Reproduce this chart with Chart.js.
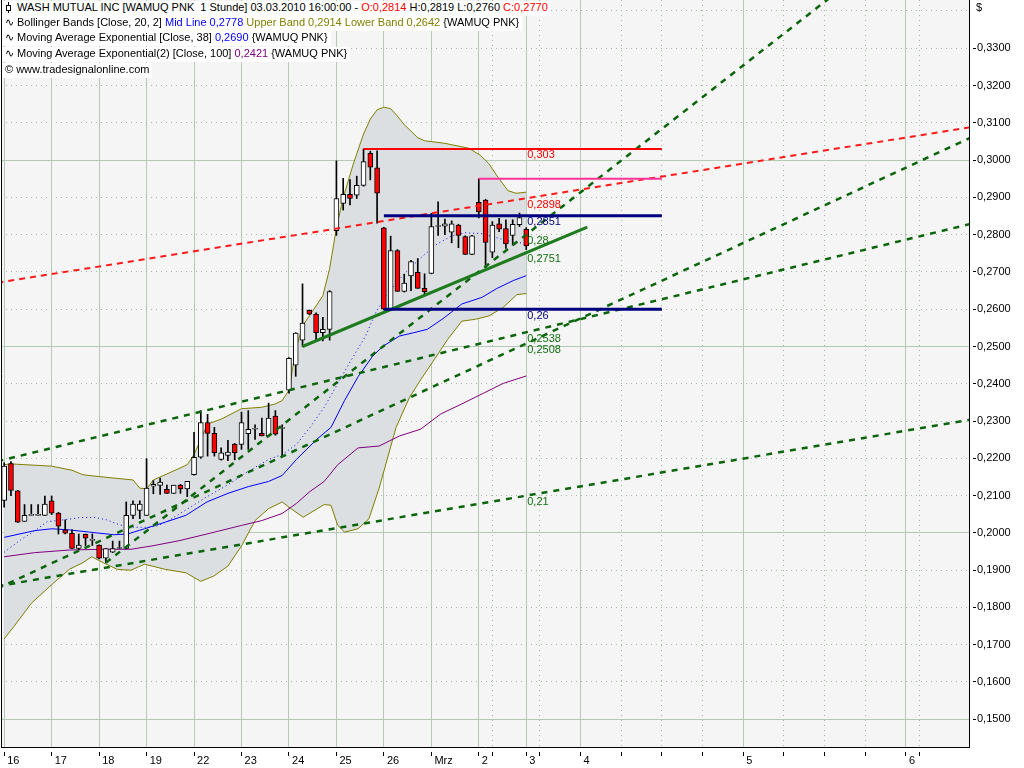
<!DOCTYPE html>
<html>
<head>
<meta charset="utf-8">
<script src="https://cdn.jsdelivr.net/npm/chart.js@4.4.0/dist/chart.umd.min.js"></script>
<style>
body { margin: 0; background: #fff; }
#wrap { position: relative; width: 1024px; height: 768px; overflow: hidden; }
#c { position: absolute; left: 0; top: 0; }
.hd { position: absolute; left: 2px; height: 15px; line-height: 15px; background: #fff; color: #000;
      font: 11px "Liberation Sans", Arial, sans-serif; white-space: pre; padding: 0 3px 0 3px; z-index: 2; }
.red { color: #ff0000; } .blue { color: #0000ff; } .olive { color: #808000; } .purple { color: #800080; }
.ico { display: inline-block; width: 12px; }
.cdl { display: inline-block; position: relative; width: 8px; height: 11px; vertical-align: -2px; margin-right: 4px; }
.cdl:before { content: ""; position: absolute; left: 3px; top: 0; width: 1px; height: 11px; background: #000; }
.cdl:after { content: ""; position: absolute; left: 1px; top: 3px; width: 3px; height: 4px; border: 1px solid #000; background: #fff; }
#dollar { position: absolute; left: 976px; top: 1px; font: 11px "Liberation Sans", Arial, sans-serif; }
</style>
</head>
<body>
<div id="wrap">
  <canvas id="c" width="1024" height="768"></canvas>
  <div class="hd" style="top:1px"><span class="cdl"></span>WASH MUTUAL INC [WAMUQ PNK  1 Stunde] 03.03.2010 16:00:00 - <span class="red">O:0,2814</span> H:0,2819 L:0,2760 <span class="red">C:0,2770</span></div>
  <div class="hd" style="top:16px"><span class="ico">∿</span>Bollinger Bands [Close, 20, 2] <span class="blue">Mid Line 0,2778</span> <span class="olive">Upper Band 0,2914 Lower Band 0,2642</span> {WAMUQ PNK}</div>
  <div class="hd" style="top:31px"><span class="ico">∿</span>Moving Average Exponential [Close, 38] <span class="blue">0,2690</span> {WAMUQ PNK}</div>
  <div class="hd" style="top:47px"><span class="ico">∿</span>Moving Average Exponential(2) [Close, 100] <span class="purple">0,2421</span> {WAMUQ PNK}</div>
  <div class="hd" style="top:63px">© www.tradesignalonline.com</div>
  <div id="dollar">$</div>
</div>
<script>
// hourly bars, index 0 = first bar on the 16th (7 bars per day)
const opens = [0.2087,0.2186,0.2113,0.2031,0.2047,0.2047,0.2047,0.2086,0.2053,0.2008,
  0.1999,0.1958,0.1996,0.1980,0.1967,0.1932,0.1948,0.1958,0.1958,0.2047,
  0.2060,0.2047,0.2125,0.2127,0.2117,0.2106,0.2128,0.2118,0.2156,0.2203,
  0.2296,0.2267,0.2197,0.2208,0.2238,0.2237,0.2266,0.2278,0.2267,0.2260,
  0.2313,0.2280,0.2383,0.2450,0.2517,0.2597,0.2587,0.2537,0.2546,0.2811,
  0.2884,0.2908,0.2906,0.2932,0.3018,0.2979,0.2818,0.2600,0.2757,0.2648,
  0.2689,0.2699,0.2656,0.2696,0.2822,0.2823,0.2807,0.2826,0.2795,0.2747,
  0.2887,0.2893,0.2753,0.2829,0.2816,0.2798,0.2827,0.2814];
const highs = [0.2188,0.2191,0.2114,0.2076,0.2076,0.2076,0.2099,0.2099,0.2055,0.2035,
  0.2008,0.1997,0.1997,0.1997,0.1968,0.1958,0.1978,0.1978,0.2083,0.2086,
  0.2086,0.2199,0.2140,0.2147,0.2128,0.2128,0.2130,0.2138,0.2270,0.2328,
  0.2318,0.2283,0.2228,0.2248,0.2240,0.2324,0.2328,0.2290,0.2308,0.2348,
  0.2328,0.2290,0.2470,0.2537,0.2668,0.2598,0.2590,0.2578,0.2650,0.2998,
  0.2951,0.2948,0.2957,0.3030,0.3024,0.3025,0.2820,0.2796,0.2760,0.2694,
  0.2731,0.2736,0.2695,0.2857,0.2888,0.2842,0.2837,0.2828,0.2797,0.2798,
  0.2950,0.2895,0.2835,0.2844,0.2840,0.2840,0.2858,0.2819];
const lows = [0.2069,0.2100,0.2028,0.2031,0.2047,0.2047,0.2047,0.2049,0.1997,0.1997,
  0.1958,0.1955,0.1966,0.1966,0.1930,0.1920,0.1947,0.1958,0.1957,0.2038,
  0.2038,0.2047,0.2105,0.2103,0.2106,0.2106,0.2106,0.2097,0.2155,0.2200,
  0.2206,0.2206,0.2195,0.2194,0.2196,0.2224,0.2224,0.2251,0.2260,0.2258,
  0.2262,0.2206,0.2375,0.2420,0.2500,0.2586,0.2514,0.2515,0.2517,0.2798,
  0.2866,0.2880,0.2897,0.2930,0.2947,0.2831,0.2598,0.2598,0.2648,0.2646,
  0.2650,0.2656,0.2636,0.2695,0.2798,0.2800,0.2778,0.2765,0.2747,0.2746,
  0.2845,0.2711,0.2738,0.2808,0.2763,0.2772,0.2822,0.2760];
const closes = [0.2179,0.2114,0.2029,0.2047,0.2047,0.2048,0.2077,0.2053,0.2018,0.1999,
  0.1958,0.1967,0.1986,0.1981,0.1932,0.1958,0.1958,0.1958,0.2047,0.2077,
  0.2077,0.2120,0.2130,0.2136,0.2106,0.2128,0.2118,0.2138,0.2203,0.2296,
  0.2267,0.2215,0.2215,0.2217,0.2215,0.2296,0.2278,0.2278,0.2260,0.2308,
  0.2265,0.2282,0.2468,0.2536,0.2563,0.2587,0.2537,0.2546,0.2647,0.2897,
  0.2908,0.2897,0.2932,0.2996,0.2981,0.2911,0.2600,0.2757,0.2648,0.2670,
  0.2728,0.2656,0.2647,0.2822,0.2823,0.2829,0.2829,0.2798,0.2747,0.2797,
  0.2861,0.2779,0.2826,0.2815,0.2775,0.2828,0.2846,0.2770];

// indicator readings [bar index, value]
const upperBand = [[0,0.2183],[1,0.2185],[7,0.2179],[10,0.2168],[11.6,0.2156],[14,0.2151],[16.2,0.2147],
  [19,0.2142],[20,0.2120],[21,0.2118],[22,0.2142],[24,0.2158],[27,0.2183],[28,0.2210],[30,0.2292],
  [32,0.2305],[35,0.2333],[38,0.2337],[40,0.2346],[41,0.2355],[42,0.2383],[43,0.2491],[44,0.2555],
  [47,0.2636],[48,0.2709],[49,0.2818],[50,0.2899],[51.5,0.2990],[53,0.3070],[54,0.3110],[55,0.3135],
  [56,0.3142],[57,0.3138],[58,0.3118],[59,0.3095],[60,0.3078],[61,0.3060],[62,0.3052],[65,0.3045],
  [68.5,0.3032],[70.3,0.3012],[71.5,0.2990],[72.8,0.2955],[74.3,0.2918],[75.5,0.2911],[77,0.2914]];
const lowerBand = [[0,0.1716],[1.4,0.1748],[4,0.1811],[7,0.1861],[9.6,0.1902],[11.6,0.1920],[12.9,0.1936],
  [14.6,0.1920],[16.7,0.1902],[18.7,0.1900],[20.7,0.1916],[23.8,0.1902],[26.8,0.1893],[29,0.1870],
  [30.9,0.1884],[33,0.1911],[35,0.1965],[37,0.2033],[39,0.2065],[41,0.2083],[42.3,0.2065],[44.1,0.2042],
  [47.2,0.2076],[48.2,0.2074],[49.2,0.2020],[50.2,0.2002],[52.2,0.2011],[53.8,0.2038],[55.3,0.2120],
  [57.8,0.2283],[59.8,0.2364],[61.4,0.2410],[63.4,0.2464],[65.4,0.2519],[67.5,0.2568],[69.5,0.2573],
  [71.5,0.2582],[73.6,0.2605],[75.6,0.2639],[77,0.2642]];
const midLine = [[0,0.1948],[2.4,0.1981],[4.3,0.2003],[6.3,0.2030],[8.8,0.2035],[11.2,0.2041],[13.2,0.2042],
  [15.1,0.2035],[17.1,0.2021],[19.1,0.2015],[21,0.2015],[22.5,0.2018],[24,0.2030],[27.1,0.2065],
  [29.9,0.2097],[33,0.2129],[36,0.2165],[39,0.2197],[41,0.2210],[43.1,0.2237],[45.1,0.2283],[47.2,0.2337],
  [49.2,0.2401],[51.2,0.2464],[53.3,0.2528],[54.8,0.2591],[56.3,0.2636],[57.8,0.2670],[59.3,0.2700],
  [61.4,0.2737],[63.6,0.2772],[66,0.2797],[68,0.2805],[70.3,0.2803],[72,0.2795],[73.8,0.2786],
  [75.8,0.2778],[77,0.2778]];
const ema38 = [[0,0.1988],[4.5,0.2006],[7,0.2011],[9.6,0.2008],[12.6,0.2002],[16.2,0.1995],[18.2,0.1997],
  [20.7,0.2011],[23.8,0.2029],[26.8,0.2047],[29.9,0.2083],[33,0.2106],[36,0.2124],[39,0.2138],[41,0.2154],
  [43.1,0.2197],[46.1,0.2251],[48.2,0.2283],[50.2,0.2355],[52.2,0.2419],[54.3,0.2473],[55.8,0.2500],
  [58.3,0.2528],[60.4,0.2537],[62.4,0.2546],[64.9,0.2577],[67.5,0.2614],[70.5,0.2632],[72.6,0.2655],
  [75.1,0.2677],[77,0.2690]];
const ema100 = [[0,0.1936],[4.5,0.1947],[9.6,0.1954],[14.6,0.1956],[18.7,0.1956],[21.8,0.1965],[25.8,0.1979],
  [29.9,0.1997],[35,0.2020],[38,0.2033],[41,0.2052],[43.1,0.2079],[45.1,0.2111],[47.2,0.2138],[49.2,0.2183],
  [52.2,0.2228],[55.3,0.2233],[58.3,0.2260],[61.4,0.2278],[64.4,0.2319],[67.5,0.2346],[70.5,0.2373],
  [73.6,0.2401],[77,0.2421]];

// drawn trend lines / levels: [startIndex, startValue, endIndex, endValue]
const redTrend   = [-1, 0.2671, 150, 0.3110];
const greenTrendA = [-1, 0.2192, 150, 0.2862];
const greenTrendB = [-1, 0.1851, 150, 0.3123];
const greenTrendC = [15, 0.1920, 150, 0.3836];
const greenTrendD = [-1, 0.1857, 150, 0.2327];
const greenSupport = [44, 0.2500, 86, 0.2820];
const levelHigh = [53, 0.303, 97, 0.303];
const levelPink = [70, 0.295, 97, 0.295];
const levelTop  = [56, 0.2851, 97, 0.2851];
const levelLow  = [56, 0.26, 97, 0.26];

const levelLabelValues = [0.303, 0.2898, 0.2851, 0.28, 0.2751, 0.26, 0.2538, 0.2508, 0.21];
const levelLabelTexts  = ['0,303', '0,2898', '0,2851', '0,28', '0,2751', '0,26', '0,2538', '0,2508', '0,21'];
const levelLabelAt = 77;

const dayTicks  = [0, 7, 14, 21, 28, 35, 42, 49, 56, 63, 70, 77, 85, 109, 133];
const dayLabels = ['16', '17', '18', '19', '22', '23', '24', '25', '26', 'Mrz', '2', '3', '4', '5', '6'];
const minorTicks = [72, 79, 91, 97, 103, 115, 121, 127, 135];
const yTicks = [0.15,0.16,0.17,0.18,0.19,0.20,0.21,0.22,0.23,0.24,0.25,0.26,0.27,0.28,0.29,0.30,0.31,0.32,0.33,0.34];

const labelColors = ['#ff0000', '#ff0000', '#000080', '#137013', '#137013', '#000080', '#137013', '#137013', '#137013'];

const pairs = arr => arr.map(p => ({x: p[0], y: p[1]}));
const seg = s => [{x: s[0], y: s[1]}, {x: s[2], y: s[3]}];

function lineSet(data, color, width, dash, order) {
  return {type: 'line', data: data, borderColor: color, borderWidth: width, borderDash: dash || [],
    pointRadius: 0, fill: false, tension: 0, order: order};
}

const gridSolid = '#b4cab4';
const gridDot = '#9fba9f';

const bgPlugin = {
  id: 'bg',
  beforeDraw(chart) {
    const a = chart.chartArea, ctx = chart.ctx;
    ctx.save();
    ctx.fillStyle = '#f5f5f5';
    ctx.fillRect(a.left, a.top, a.right - a.left, a.bottom - a.top);
    ctx.restore();
  },
  afterDraw(chart) {
    const a = chart.chartArea, ctx = chart.ctx;
    ctx.save();
    ctx.strokeStyle = '#000';
    ctx.lineWidth = 1;
    ctx.beginPath();
    ctx.moveTo(a.left + 0.5, a.top);
    ctx.lineTo(a.left + 0.5, a.bottom);
    ctx.stroke();
    ctx.restore();
  }
};

const labelPlugin = {
  id: 'levelLabels',
  afterDatasetsDraw(chart) {
    const ctx = chart.ctx, xs = chart.scales.x, ys = chart.scales.y;
    ctx.save();
    ctx.font = '11px "Liberation Sans", Arial, sans-serif';
    ctx.textBaseline = 'top';
    ctx.textAlign = 'left';
    levelLabelValues.forEach((v, k) => {
      ctx.fillStyle = labelColors[k];
      ctx.fillText(levelLabelTexts[k], xs.getPixelForValue(levelLabelAt) + 1, ys.getPixelForValue(v) + 1);
    });
    ctx.restore();
  }
};

const datasets = [
  // bollinger envelope
  Object.assign(lineSet(pairs(upperBand), '#808000', 1, [], 20), {fill: '+1', backgroundColor: '#dcdfe2'}),
  lineSet(pairs(lowerBand), '#808000', 1, [], 19),
  lineSet(pairs(midLine), '#0000ff', 1, [1, 3], 18),
  lineSet(pairs(ema38), '#0000ff', 1, [], 17),
  lineSet(pairs(ema100), '#800080', 1, [], 16),
  // candles
  {type: 'bar', data: opens.map((o, i) => ({x: i, y: [lows[i], highs[i]]})), backgroundColor: '#000',
    barThickness: 1, grouped: false, order: 12},
  {type: 'bar', data: opens.map((o, i) => ({x: i, y: [o, closes[i]]})),
    backgroundColor: ctx => closes[ctx.dataIndex] < opens[ctx.dataIndex] ? '#ff0000' : '#ffffff',
    borderColor: '#000', borderWidth: 1, borderSkipped: false, barThickness: 5, minBarLength: 1,
    grouped: false, order: 11},
  // drawn lines
  lineSet(seg(redTrend), '#ff1a1a', 2, [6, 5], 5),
  lineSet(seg(greenTrendA), '#0b650b', 2.5, [6, 6], 5),
  lineSet(seg(greenTrendB), '#0b650b', 2.5, [6, 6], 5),
  lineSet(seg(greenTrendC), '#0b650b', 2.5, [6, 6], 5),
  lineSet(seg(greenTrendD), '#0b650b', 2.5, [6, 6], 5),
  lineSet(seg(greenSupport), '#1e7b1e', 3, [], 4),
  lineSet(seg(levelHigh), '#ff0000', 2, [], 3),
  lineSet(seg(levelPink), '#ff3399', 2, [], 3),
  lineSet(seg(levelTop), '#000080', 3, [], 3),
  lineSet(seg(levelLow), '#000080', 3, [], 3)
];

new Chart(document.getElementById('c'), {
  type: 'bar',
  data: {datasets: datasets},
  options: {
    responsive: false,
    animation: false,
    devicePixelRatio: 1,
    layout: {padding: {left: 1, top: 0, right: 0, bottom: 0}},
    plugins: {legend: {display: false}, tooltip: {enabled: false}},
    scales: {
      x: {
        type: 'linear', min: -0.47, max: 142.3, offset: false,
        afterBuildTicks: s => { s.ticks = dayTicks.concat(minorTicks).sort((a, b) => a - b).map(v => ({value: v})); },
        afterFit: s => { s.height = 21; s.paddingLeft = 0; s.paddingRight = 0; },
        grid: {
          offset: false,
          color: ctx => dayTicks.includes(ctx.tick && ctx.tick.value) ? gridSolid : gridDot,
          lineWidth: 1, tickLength: 9, tickColor: '#000', tickBorderDash: [0, 4, 5, 20]
        },
        border: {color: '#000', width: 1,
          dash: ctx => (ctx.tick && !dayTicks.includes(ctx.tick.value)) ? [1, 4] : []},
        ticks: {
          autoSkip: false, maxRotation: 0, align: 'start', padding: -2, color: '#000',
          font: {family: '"Liberation Sans", Arial, sans-serif', size: 11},
          callback: v => { const k = dayTicks.indexOf(v); return k >= 0 ? ' ' + dayLabels[k] : ''; }
        }
      },
      y: {
        type: 'linear', position: 'right', min: 0.14256, max: 0.34295,
        afterBuildTicks: s => { s.ticks = yTicks.map(v => ({value: v})); },
        afterFit: s => { s.width = 55; s.paddingTop = 0; s.paddingBottom = 0; },
        grid: {
          color: ctx => {
            const v = ctx.tick ? ctx.tick.value : 0;
            return Math.abs(v * 20 - Math.round(v * 20)) < 1e-6 ? gridSolid : gridDot;
          },
          lineWidth: 1, tickLength: 7,
          tickColor: ctx => (ctx.tick && ctx.tick.value > 0.335) ? 'rgba(0,0,0,0)' : '#000',
          tickBorderDash: [0, 3, 4, 10]
        },
        border: {color: '#000', width: 1,
          dash: ctx => {
            if (!ctx.tick) return [];
            const v = ctx.tick.value;
            return Math.abs(v * 20 - Math.round(v * 20)) < 1e-6 ? [] : [1, 4];
          }},
        ticks: {
          padding: 1, color: '#000',
          font: {family: '"Liberation Sans", Arial, sans-serif', size: 11},
          callback: v => v > 0.335 ? '' : v.toFixed(4).replace('.', ',')
        }
      }
    }
  },
  plugins: [bgPlugin, labelPlugin]
});
</script>
</body>
</html>
